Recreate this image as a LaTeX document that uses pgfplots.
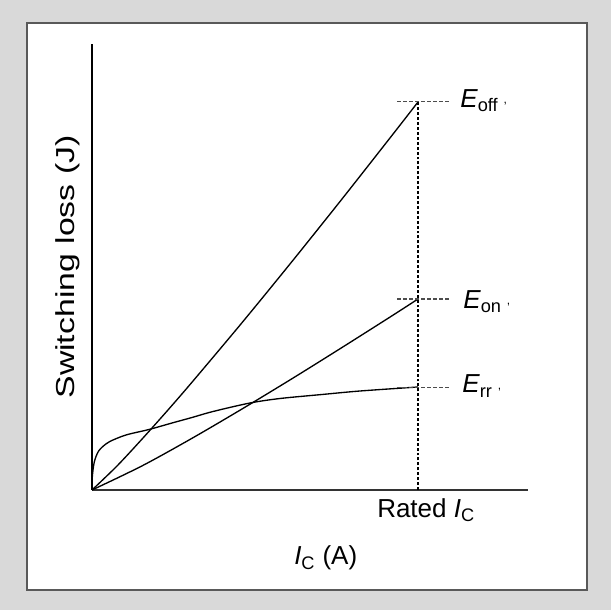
\documentclass[border=0pt]{standalone}
\usepackage{fontspec}
\setmainfont{Liberation Sans}
\usepackage{graphicx}
\usepackage{pgfplots}
\pgfplotsset{compat=1.18}
\definecolor{bg}{HTML}{D9D9D9}
\newcommand{\lab}[1]{\textit{E}\textsubscript{#1}\hspace{0.2em}\raisebox{0.15em}{\small ,}}
\begin{document}
\fontsize{19.5}{23}\selectfont
\begin{tikzpicture}[x=0.75pt,y=0.75pt]
\fill[bg] (0,0) rectangle (611,610);
\filldraw[fill=white,draw=black!65,line width=0.9pt] (27,20) rectangle (587,587);
\begin{axis}[
  at={(92,120)}, anchor=south west,
  scale only axis, width=327pt, height=334.5pt,
  xmin=0, xmax=436, ymin=0, ymax=446,
  axis x line=bottom, axis y line=left,
  x axis line style={-, line width=1.5pt, black!80},
  y axis line style={-, line width=0.8pt, black},
  xtick=\empty, ytick=\empty,
  clip=false,
]
% E_off
\addplot[black, line width=1pt, smooth] coordinates {
 (0,0) (25,24.0) (50,50.9) (75,78.9) (100,107.8) (150,167.3) (200,228.5) (250,291) (300,354.6) (326,388)};
% E_on
\addplot[black, line width=1pt, smooth] coordinates {
 (0,0) (50,24.1) (100,51.7) (150,81) (200,111.3) (250,142.5) (300,174.2) (326,191)};
% E_rr
\addplot[black, line width=1pt, smooth, tension=0.5] coordinates {
 (0,0) (0.3,13) (2.3,28) (7,39.5) (17,48) (34,55) (57,60.5) (80,67) (100,72.5) (121,78.5) (158,87) (188,91.5) (230,95.5) (268,99) (326,103)};
% rated current
\addplot[black, line width=1.3pt, dash pattern=on 2.2pt off 1.5pt] coordinates {(326,0) (326,388)};
\addplot[black!70, line width=0.8pt, dash pattern=on 3pt off 1.5pt] coordinates {(305,388.3) (358,388.3)};
\addplot[black!70, line width=0.8pt, dash pattern=on 3pt off 1.5pt] coordinates {(305,191) (358,191)};
\addplot[black!70, line width=0.8pt, dash pattern=on 3pt off 1.5pt] coordinates {(305,102.7) (358,102.7)};
\node[anchor=base west, inner sep=0pt] at (axis cs:368,382.7) {\lab{off}};
\node[anchor=base west, inner sep=0pt] at (axis cs:371,181.7) {\lab{on}};
\node[anchor=base west, inner sep=0pt] at (axis cs:370,97) {\lab{rr}};
\node[anchor=base west, inner sep=0pt] at (axis cs:285,-27.7) {Rated \textit{I}\textsubscript{C}};
\node[anchor=base west, inner sep=0pt] at (axis cs:202,-75) {\textit{I}\textsubscript{C} (A)};
\node[rotate=90, inner sep=0pt] at (axis cs:-24,223) {\scalebox{1.3}[1]{Switching loss (J)}};
\end{axis}
\end{tikzpicture}
\end{document}
